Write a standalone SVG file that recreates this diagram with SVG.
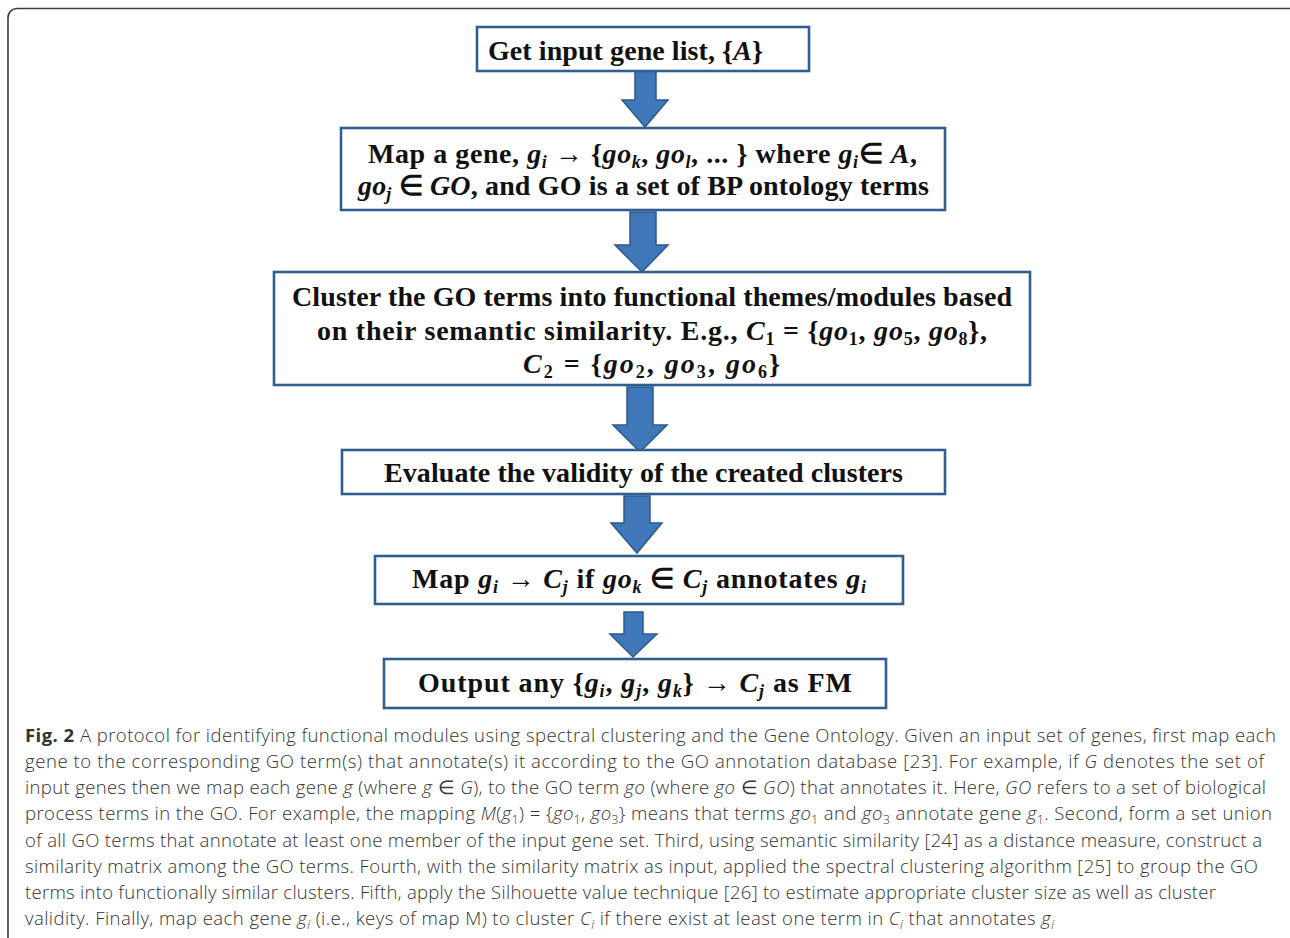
<svg xmlns="http://www.w3.org/2000/svg" width="1290" height="938" viewBox="0 0 1290 938">
<style>
.frame{fill:#fff;stroke:#3a3a3a;stroke-width:1.6}
.box{fill:#fff;stroke:#2f5f8f;stroke-width:2.6}
.arr{fill:#3f77b9;stroke:#2c5a8a;stroke-width:1.5}
.bx{font-family:"Liberation Serif","Times New Roman",serif;font-weight:bold;font-size:28px;fill:#111}
.m{font-style:italic}
.s{font-size:18px}
.cap{font-family:"Open Sans","Noto Sans",sans-serif;font-size:18.5px;font-weight:300;fill:#333}
.ci{font-style:italic}
.cs{font-size:12px}
.b{font-weight:bold}
</style>
<rect class="frame" x="8" y="8.5" width="1300" height="950" rx="9"/>
<g id="connectors">
<polygon class="arr" points="635,71 656,71 656,100 668,100 645,127 622,100 635,100"/>
<polygon class="arr" points="630,212 656,212 656,245 668,245 642,272 615,245 630,245"/>
<polygon class="arr" points="627,387 653,387 653,425 667,425 640,452 613,425 627,425"/>
<polygon class="arr" points="624,496 650,496 650,523 662,523 637,553 611,523 624,523"/>
<polygon class="arr" points="624,612 643,612 643,634 657,634 633,657 610,634 624,634"/>
</g>
<g id="node1">
<rect class="box" x="477" y="27" width="332" height="44"/>
<text class="bx" x="488" y="60" textLength="275">Get input gene list, {<tspan class="m">A</tspan>}</text>
</g>
<g id="node2">
<rect class="box" x="341" y="128" width="604" height="82"/>
<text class="bx" x="368" y="163" textLength="549">Map a gene, <tspan class="m">g</tspan><tspan class="m s" dy="5">i</tspan><tspan dy="-5"> → {</tspan><tspan class="m">go</tspan><tspan class="m s" dy="5">k</tspan><tspan dy="-5">, </tspan><tspan class="m">go</tspan><tspan class="m s" dy="5">l</tspan><tspan dy="-5">, ... } where </tspan><tspan class="m">g</tspan><tspan class="m s" dy="5">i</tspan><tspan dy="-5">∈ </tspan><tspan class="m">A</tspan>,</text>
<text class="bx" x="358" y="195" textLength="571"><tspan class="m">go</tspan><tspan class="m s" dy="5">j</tspan><tspan dy="-5"> ∈ </tspan><tspan class="m">GO</tspan>, and GO is a set of BP ontology terms</text>
</g>
<g id="node3">
<rect class="box" x="274" y="272" width="756" height="113"/>
<text class="bx" x="292" y="306" textLength="720">Cluster the GO terms into functional themes/modules based</text>
<text class="bx" x="317" y="340" textLength="670">on their semantic similarity. E.g., <tspan class="m">C</tspan><tspan class="s" dy="5">1</tspan><tspan dy="-5"> = {</tspan><tspan class="m">go</tspan><tspan class="s" dy="5">1</tspan><tspan dy="-5">, </tspan><tspan class="m">go</tspan><tspan class="s" dy="5">5</tspan><tspan dy="-5">, </tspan><tspan class="m">go</tspan><tspan class="s" dy="5">8</tspan><tspan dy="-5">},</tspan></text>
<text class="bx" x="523" y="373" textLength="257"><tspan class="m">C</tspan><tspan class="s" dy="5">2</tspan><tspan dy="-5"> = {</tspan><tspan class="m">go</tspan><tspan class="s" dy="5">2</tspan><tspan dy="-5">, </tspan><tspan class="m">go</tspan><tspan class="s" dy="5">3</tspan><tspan dy="-5">, </tspan><tspan class="m">go</tspan><tspan class="s" dy="5">6</tspan><tspan dy="-5">}</tspan></text>
</g>
<g id="node4">
<rect class="box" x="342" y="450" width="603" height="44"/>
<text class="bx" x="384" y="482" textLength="519">Evaluate the validity of the created clusters</text>
</g>
<g id="node5">
<rect class="box" x="375" y="556" width="528" height="48"/>
<text class="bx" x="412" y="588" textLength="454">Map <tspan class="m">g</tspan><tspan class="m s" dy="5">i</tspan><tspan dy="-5"> → </tspan><tspan class="m">C</tspan><tspan class="m s" dy="5">j</tspan><tspan dy="-5"> if </tspan><tspan class="m">go</tspan><tspan class="m s" dy="5">k</tspan><tspan dy="-5"> ∈ </tspan><tspan class="m">C</tspan><tspan class="m s" dy="5">j</tspan><tspan dy="-5"> annotates </tspan><tspan class="m">g</tspan><tspan class="m s" dy="5">i</tspan></text>
</g>
<g id="node6">
<rect class="box" x="384" y="659" width="502" height="49"/>
<text class="bx" x="418" y="692" textLength="434">Output any  {<tspan class="m">g</tspan><tspan class="m s" dy="5">i</tspan><tspan dy="-5">, </tspan><tspan class="m">g</tspan><tspan class="m s" dy="5">j</tspan><tspan dy="-5">, </tspan><tspan class="m">g</tspan><tspan class="m s" dy="5">k</tspan><tspan dy="-5">} → </tspan><tspan class="m">C</tspan><tspan class="m s" dy="5">j</tspan><tspan dy="-5"> as FM</tspan></text>
</g>
<g id="caption">
<text class="cap" x="25" y="742" textLength="1251"><tspan class="b">Fig. 2</tspan> A protocol for identifying functional modules using spectral clustering and the Gene Ontology. Given an input set of genes, first map each</text>
<text class="cap" x="25" y="768" textLength="1239">gene to the corresponding GO term(s) that annotate(s) it according to the GO annotation database [23]. For example, if <tspan class="ci">G</tspan> denotes the set of</text>
<text class="cap" x="25" y="794" textLength="1241">input genes then we map each gene <tspan class="ci">g</tspan> (where <tspan class="ci">g</tspan> ∈ <tspan class="ci">G</tspan>), to the GO term <tspan class="ci">go</tspan> (where <tspan class="ci">go</tspan> ∈ <tspan class="ci">GO</tspan>) that annotates it. Here, <tspan class="ci">GO</tspan> refers to a set of biological</text>
<text class="cap" x="25" y="820" textLength="1247">process terms in the GO. For example, the mapping <tspan class="ci">M</tspan>(<tspan class="ci">g</tspan><tspan class="cs" dy="4">1</tspan><tspan dy="-4">) = {</tspan><tspan class="ci">go</tspan><tspan class="cs" dy="4">1</tspan><tspan dy="-4">, </tspan><tspan class="ci">go</tspan><tspan class="cs" dy="4">3</tspan><tspan dy="-4">} means that terms </tspan><tspan class="ci">go</tspan><tspan class="cs" dy="4">1</tspan><tspan dy="-4"> and </tspan><tspan class="ci">go</tspan><tspan class="cs" dy="4">3</tspan><tspan dy="-4"> annotate gene </tspan><tspan class="ci">g</tspan><tspan class="cs" dy="4">1</tspan><tspan dy="-4">. Second, form a set union</tspan></text>
<text class="cap" x="25" y="847" textLength="1237">of all GO terms that annotate at least one member of the input gene set. Third, using semantic similarity [24] as a distance measure, construct a</text>
<text class="cap" x="25" y="873" textLength="1233">similarity matrix among the GO terms. Fourth, with the similarity matrix as input, applied the spectral clustering algorithm [25] to group the GO</text>
<text class="cap" x="25" y="899" textLength="1191">terms into functionally similar clusters. Fifth, apply the Silhouette value technique [26] to estimate appropriate cluster size as well as cluster</text>
<text class="cap" x="25" y="925" textLength="1029">validity. Finally, map each gene <tspan class="ci">g</tspan><tspan class="ci cs" dy="4">i</tspan><tspan dy="-4"> (i.e., keys of map M) to cluster </tspan><tspan class="ci">C</tspan><tspan class="ci cs" dy="4">i</tspan><tspan dy="-4"> if there exist at least one term in </tspan><tspan class="ci">C</tspan><tspan class="ci cs" dy="4">i</tspan><tspan dy="-4"> that annotates </tspan><tspan class="ci">g</tspan><tspan class="ci cs" dy="4">i</tspan></text>
</g>
</svg>
